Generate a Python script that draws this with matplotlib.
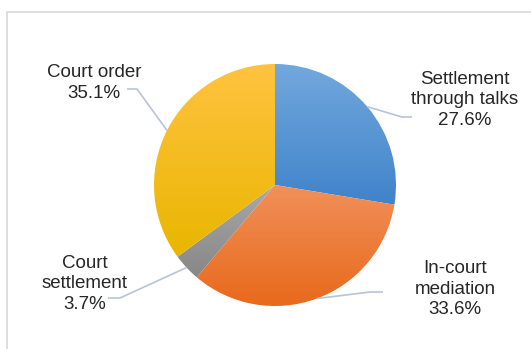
import numpy as np
import matplotlib
matplotlib.use("Agg")
import matplotlib.pyplot as plt
from matplotlib.colors import LinearSegmentedColormap
from matplotlib.patches import Rectangle

categories = ["Settlement\nthrough talks", "In-court\nmediation", "Court\nsettlement", "Court order"]
values = [27.6, 33.6, 3.7, 35.1]
labels_pct = ["27.6%", "33.6%", "3.7%", "35.1%"]
grad_top = ["#72a8dd", "#f1905a", "#a9a9a9", "#ffc340"]
grad_bot = ["#4083ca", "#e8691b", "#878787", "#e9b600"]

W, H = 531, 349
fig = plt.figure(figsize=(W / 100, H / 100), dpi=100)
fig.patch.set_facecolor("white")

# outer chart frame (extends beyond the crop)
fig.add_artist(Rectangle((7 / W, -0.1), 1.2, (H - 12) / H + 0.1, transform=fig.transFigure,
                         fill=False, edgecolor="#d9d9d9", linewidth=1.2))

cx, cy, R = 275, 185, 121
ax = fig.add_axes([(cx - R) / W, (H - cy - R) / H, 2 * R / W, 2 * R / H])
ax.set_xlim(-1, 1)
ax.set_ylim(-1, 1)
ax.set_aspect("equal")
ax.axis("off")

wedges, _ = ax.pie(values, startangle=90, counterclock=False, radius=1,
                   wedgeprops=dict(linewidth=0))

for w, c0, c1 in zip(wedges, grad_top, grad_bot):
    w.set_facecolor("none")
    bb = w.get_path().get_extents()
    cmap = LinearSegmentedColormap.from_list("g", [c0, c1])
    grad = np.linspace(0, 1, 256).reshape(-1, 1)
    im = ax.imshow(grad, cmap=cmap, extent=(bb.x0, bb.x1, bb.y0, bb.y1),
                   origin="upper", aspect="auto", interpolation="bilinear")
    im.set_clip_path(w)

ax.set_xlim(-1, 1)
ax.set_ylim(-1, 1)

def px(x, y):
    return (x - cx) / R, (cy - y) / R

# label layout (pixel positions of label centre, elbow, and end of leader)
label_pos = [(465, 100), (455, 289), (85, 284), (94, 83)]
elbows = [((402, 117), (412, 117)), ((370, 292), (383, 292)),
          ((120, 298), (108, 298)), ((137, 89), (127, 89))]

for w, cat, pct, lp, (e1, e2) in zip(wedges, categories, labels_pct, label_pos, elbows):
    mid = np.deg2rad((w.theta1 + w.theta2) / 2)
    sx, sy = np.cos(mid), np.sin(mid)
    x1, y1 = px(*e1)
    x2, y2 = px(*e2)
    ax.plot([sx, x1, x2], [sy, y1, y2], color="#b7c4d6", linewidth=1.2, clip_on=False,
            solid_capstyle="butt")
    tx, ty = px(*lp)
    ax.text(tx, ty, cat + "\n" + pct, ha="center", va="center", fontsize=13.5,
            family="Liberation Sans", color="#262626", linespacing=1.28, clip_on=False)

fig.savefig("out.png", dpi=100)
